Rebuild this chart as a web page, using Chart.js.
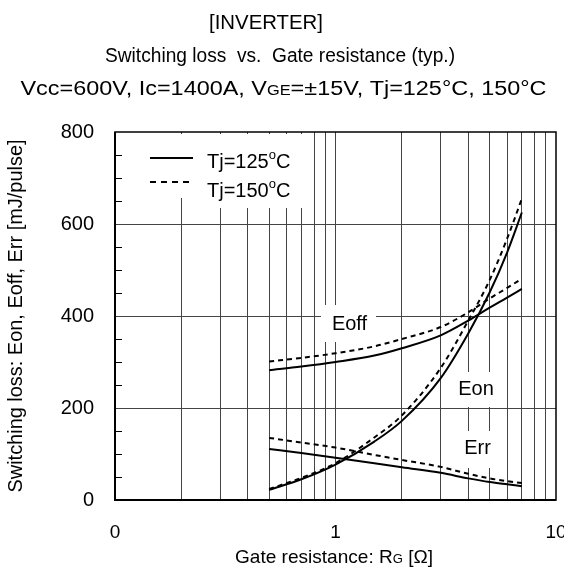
<!DOCTYPE html>
<html>
<head>
<meta charset="utf-8">
<script src="https://cdn.jsdelivr.net/npm/chart.js@4/dist/chart.umd.min.js"></script>
<style>
html,body{margin:0;padding:0;background:#fff;}
canvas{display:block;}
</style>
</head>
<body>
<canvas id="c" width="564" height="576"></canvas>
<script>
// ---- data ----
const rg = [0.5, 0.7, 1, 1.5, 2, 3, 4, 5, 6, 7];
const eon125  = [22, 45, 77, 127, 172, 265, 362, 451, 538, 625];
const eon150  = [24, 48, 80, 136, 184, 287, 390, 478, 568, 655];
const eoff125 = [282, 290, 300, 314, 330, 358, 390, 418, 440, 459];
const eoff150 = [301, 309, 319, 334, 350, 376, 408, 438, 461, 481];
const err125  = [111, 102, 92, 80, 71, 59, 47, 39, 34, 30];
const err150  = [135, 125, 114, 98, 87, 72, 57, 47, 41, 37];
const xGridValues = [0.1,0.2,0.3,0.4,0.5,0.6,0.7,0.8,0.9,1,2,3,4,5,6,7,8,9,10];
const xTickValues = [0.1, 1, 10];
const xTickLabels = ['0', '1', '10'];
const yTickValues = [0, 200, 400, 600, 800];

const FONT = "'Liberation Sans', Arial, sans-serif";

function pts(ys){ return rg.map((r,i)=>({x:r, y:ys[i]})); }
function ds(label, ys, dashed){
  return {label, data: pts(ys), borderColor:'#000', borderWidth:2, pointRadius:0,
    fill:false, tension:0.4, cubicInterpolationMode:'monotone', borderDash: dashed?[5,4]:[]};
}

// draw text runs; if targetW given, stretch horizontally to that width
function drawRuns(ctx, runs, x, y, align, targetW){
  let w = 0;
  runs.forEach(r=>{ ctx.font = r.size + 'px ' + FONT; r.w = ctx.measureText(r.t).width; w += r.w; });
  const sx = targetW ? targetW / w : 1;
  const W = w * sx;
  let start = align==='center' ? x - W/2 : (align==='right' ? x - W : x);
  ctx.save();
  ctx.translate(start, y);
  ctx.scale(sx, 1);
  ctx.textAlign = 'left'; ctx.textBaseline = 'alphabetic';
  let cx = 0;
  runs.forEach(r=>{ ctx.font = r.size + 'px ' + FONT; ctx.fillText(r.t, cx, (r.dy||0)); cx += r.w; });
  ctx.restore();
}

const deco = {
  id:'deco',
  beforeDatasetsDraw(chart){
    const ctx = chart.ctx;
    ctx.save();
    ctx.fillStyle = '#fff';
    // legend background
    ctx.fillRect(140, 134, 56, 64);
    ctx.fillRect(196, 134, 110, 74);
    // label backgrounds
    ctx.fillRect(321, 305, 55, 37);
    ctx.fillRect(452, 372, 48, 35);
    ctx.fillRect(452, 431, 48, 37);
    ctx.restore();
  },
  afterDatasetsDraw(chart){
    const ctx = chart.ctx, a = chart.chartArea, ys = chart.scales.y;
    ctx.save();
    // frame
    ctx.strokeStyle = '#000';
    ctx.lineWidth = 1.5;
    ctx.strokeRect(a.left, a.top, a.right - a.left, a.bottom - a.top);
    ctx.lineWidth = 2;
    ctx.beginPath();
    ctx.moveTo(a.left, a.top); ctx.lineTo(a.left, a.bottom); ctx.lineTo(a.right, a.bottom);
    ctx.stroke();
    // minor inward ticks on y axis
    ctx.lineWidth = 1;
    ctx.beginPath();
    for (let v = 50; v < 800; v += 50){
      if (v % 200 === 0) continue;
      const py = Math.round(ys.getPixelForValue(v)) + 0.5;
      ctx.moveTo(a.left, py); ctx.lineTo(a.left + 7, py);
    }
    ctx.stroke();
    // legend
    ctx.lineWidth = 2;
    ctx.beginPath(); ctx.moveTo(150, 158); ctx.lineTo(193, 158); ctx.stroke();
    ctx.setLineDash([6,5]);
    ctx.beginPath(); ctx.moveTo(150, 182); ctx.lineTo(193, 182); ctx.stroke();
    ctx.setLineDash([]);
    ctx.fillStyle = '#000';
    drawRuns(ctx, [{t:'Tj=125', size:20},{t:'o', size:13, dy:-9},{t:'C', size:20}], 207, 168, 'left');
    drawRuns(ctx, [{t:'Tj=150', size:20},{t:'o', size:13, dy:-9},{t:'C', size:20}], 207, 197, 'left');
    // curve labels
    drawRuns(ctx, [{t:'Eoff', size:20}], 349.5, 329.5, 'center');
    drawRuns(ctx, [{t:'Eon', size:20}], 476, 395, 'center');
    drawRuns(ctx, [{t:'Err', size:20}], 477.5, 454, 'center');
    // titles
    drawRuns(ctx, [{t:'[INVERTER]', size:20}], 266, 28.5, 'center', 114);
    drawRuns(ctx, [{t:'Switching loss  vs.  Gate resistance (typ.)', size:20}], 280, 61.5, 'center', 350);
    drawRuns(ctx, [{t:'Vcc=600V, Ic=1400A, V', size:20},{t:'GE', size:14},{t:'=±15V, Tj=125°C, 150°C', size:20}], 283.5, 94.5, 'center', 526);
    // x axis title
    drawRuns(ctx, [{t:'Gate resistance: R', size:19},{t:'G', size:13},{t:' [Ω]', size:19}], 334, 563, 'center', 198);
    // y axis title
    ctx.save();
    ctx.translate(22, 316);
    ctx.rotate(-Math.PI/2);
    drawRuns(ctx, [{t:'Switching loss: Eon, Eoff, Err [mJ/pulse]', size:20}], 0, 0, 'center', 353);
    ctx.restore();
    ctx.restore();
  }
};

new Chart(document.getElementById('c'), {
  type:'line',
  data:{ datasets:[
    ds('Eon Tj=125°C', eon125, false),
    ds('Eon Tj=150°C', eon150, true),
    ds('Eoff Tj=125°C', eoff125, false),
    ds('Eoff Tj=150°C', eoff150, true),
    ds('Err Tj=125°C', err125, false),
    ds('Err Tj=150°C', err150, true)
  ]},
  options:{
    responsive:false, animation:false, devicePixelRatio:1,
    layout:{ padding:{ left:0, top:132, right:8, bottom:0 } },
    plugins:{ legend:{display:false}, tooltip:{enabled:false}, title:{display:false} },
    scales:{
      x:{
        type:'logarithmic', min:0.1, max:10, position:'bottom',
        afterBuildTicks(s){ s.ticks = xGridValues.map(v=>({value:v})); },
        afterFit(s){ s.height = 76; s.paddingLeft = 0; s.paddingRight = 0; },
        border:{display:false},
        grid:{ drawTicks:false, color:(c)=> (c.tick && (c.tick.value===0.1 || c.tick.value===10)) ? 'rgba(0,0,0,0)' : '#444', lineWidth:1 },
        ticks:{ autoSkip:false, maxRotation:0, padding:21, color:'#000', font:{family:FONT, size:19},
          callback(v){ const i = xTickValues.findIndex(t=>Math.abs(t - v) < 1e-9); return i>=0 ? xTickLabels[i] : ''; } }
      },
      y:{
        type:'linear', min:0, max:800,
        afterBuildTicks(s){ s.ticks = yTickValues.map(v=>({value:v})); },
        afterFit(s){ s.width = 115; s.paddingTop = 0; s.paddingBottom = 0; },
        border:{display:false},
        grid:{ drawTicks:false, color:(c)=> (c.tick && (c.tick.value===0 || c.tick.value===800)) ? 'rgba(0,0,0,0)' : '#444', lineWidth:1 },
        ticks:{ padding:21, color:'#000', font:{family:FONT, size:20} }
      }
    }
  },
  plugins:[deco]
});
</script>
</body>
</html>
